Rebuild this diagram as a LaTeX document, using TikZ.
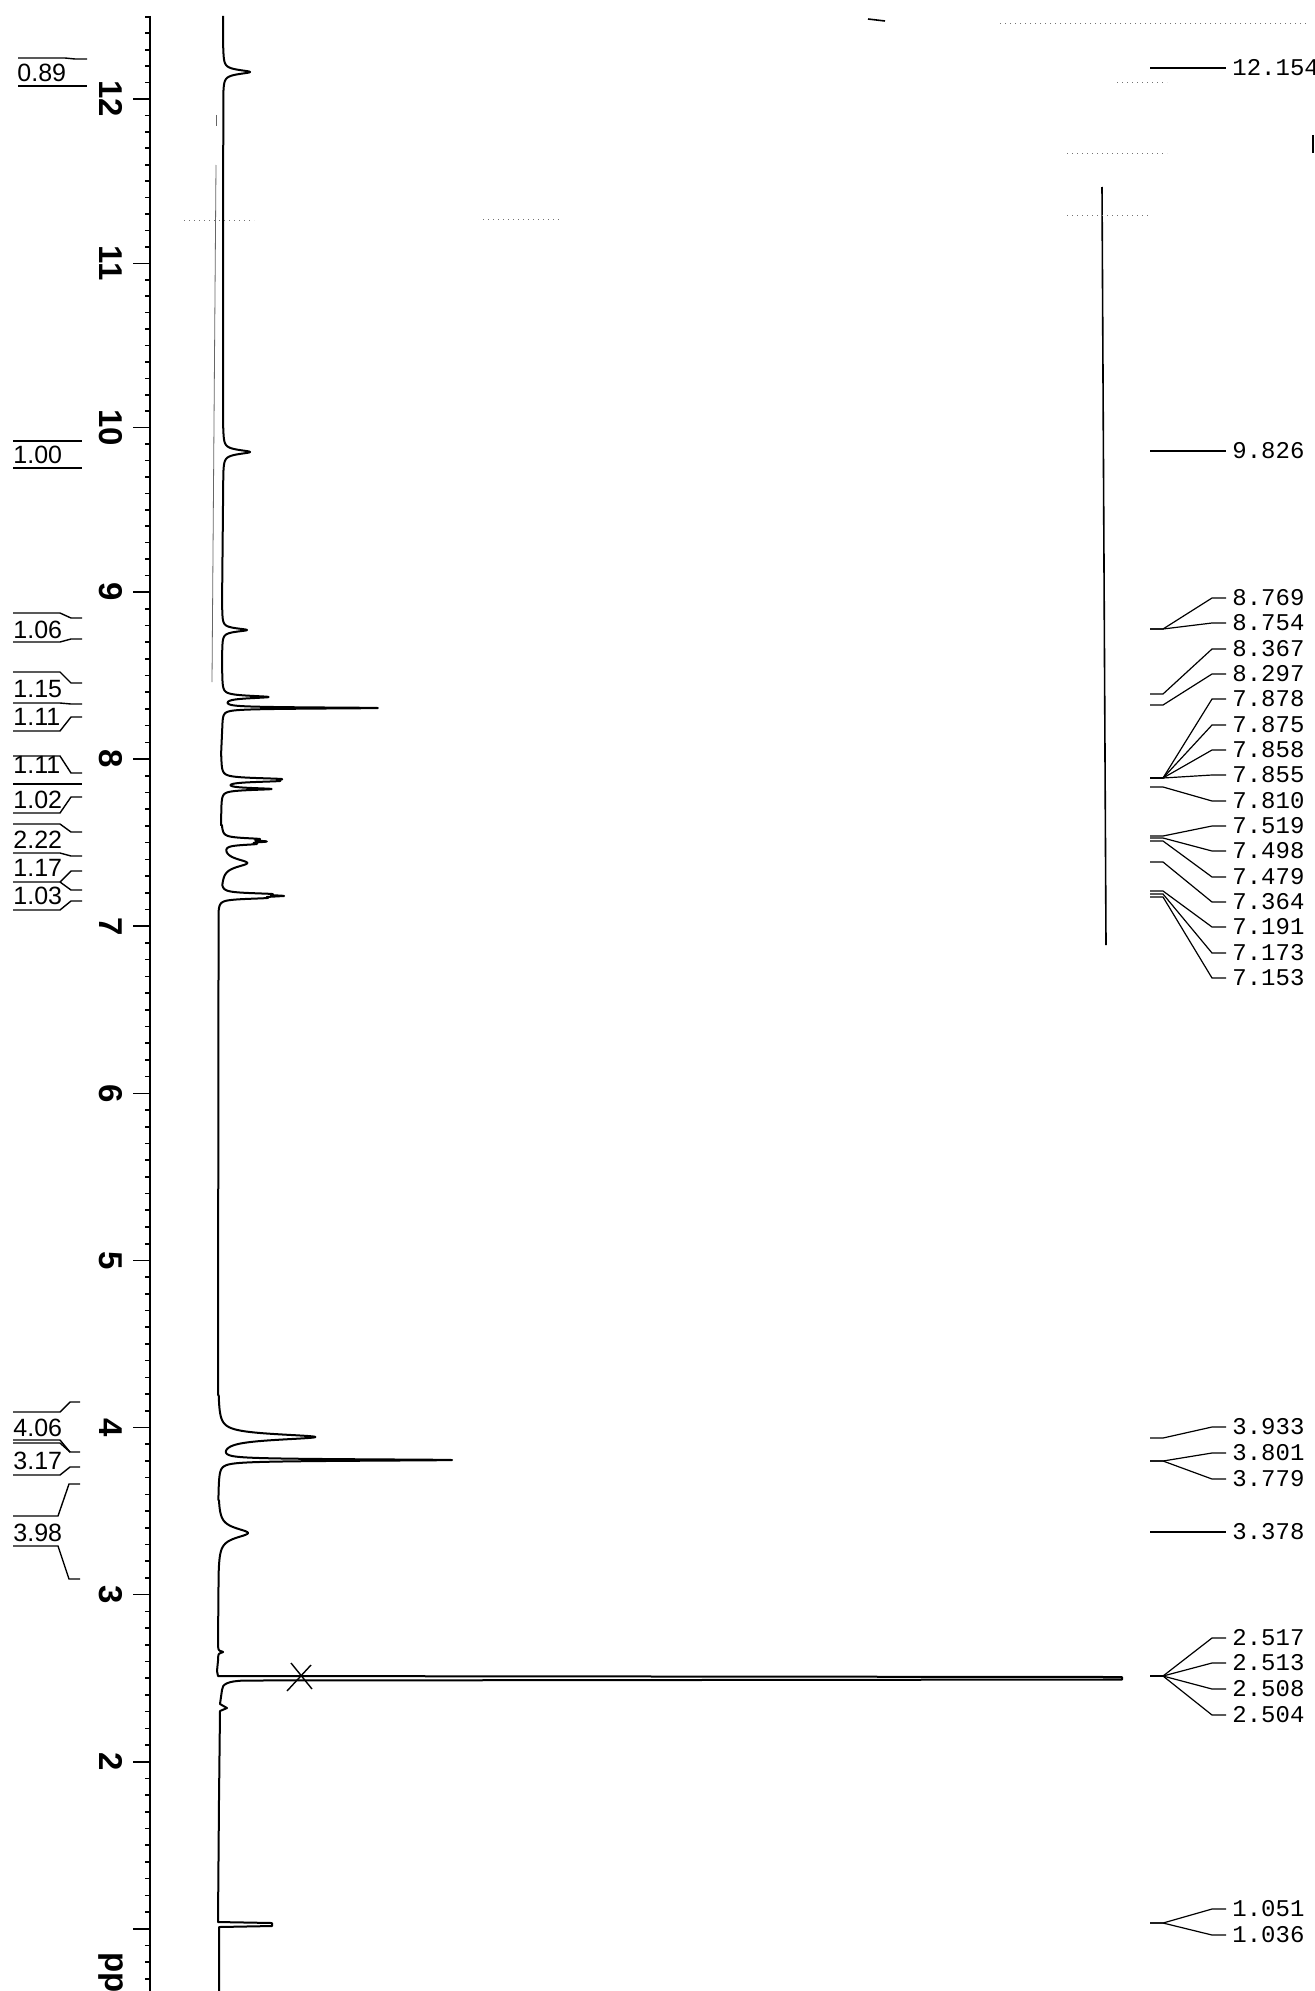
\documentclass[tikz,border=0pt]{standalone}
\usepackage{fontspec}
\setmainfont{Liberation Sans}
\newfontfamily\shiftfont{Liberation Mono}
\tikzset{
  trace/.style={line width=1pt, line join=round},
  axisline/.style={line width=1.1pt},
  tickmark/.style={line width=0.8pt},
  ticklabel/.style={rotate=-90, inner sep=0pt, font=\fontsize{16.5}{17}\selectfont\bfseries},
  intline/.style={line width=0.7pt},
  intlabel/.style={anchor=west, inner sep=0pt, font=\fontsize{12.5}{13}\selectfont},
  peakline/.style={line width=0.6pt},
  peaklabel/.style={anchor=west, inner sep=3pt, font=\shiftfont\fontsize{12}{13}\selectfont},
  speck/.style={line width=0.5pt, color=black!55, dotted},
}

\begin{document}
\begin{tikzpicture}[x=0.5pt, y=-0.5pt,
    declare function={py(\d)=ifthenelse(\d<9,592+(9-\d)*167.1,99+(12-\d)*164.3);
                      lz(\x,\m,\h,\w)=\h/(1+((\x-\m)/\w)^2);}]
		%%%%% START %%%%%
		\useasboundingbox[fill=white] (0,0) rectangle (1315,1991);
		
		% ppm axis
		\draw[axisline] (150,16) -- (150,1991);
		\foreach \k in {7,...,125}
			\draw[tickmark] (145,{py(\k/10)}) -- (150,{py(\k/10)});
		\foreach \n in {1,...,12}
			\draw[tickmark] (133,{py(\n)}) -- (150,{py(\n)});
		\foreach \n in {2,...,12}
			\node[ticklabel] (tick\n) at (111,{py(\n)}) {\n};
		\node[ticklabel, anchor=west] (ppm) at (111,1952) {ppm};
		
		% spectrum
		\draw[trace] (223,16) -- (223,48)
			-- plot[variable=\t, domain=48:96, samples=193] ({223+lz(\t,72,27,2.5)}, \t)
			-- (223,428)
			-- plot[variable=\t, domain=428:476, samples=193] ({223+lz(\t,452,27,2.5)}, \t)
			-- (222,608)
			-- plot[variable=\t, domain=608:652, samples=177] ({222+lz(\t,630,25,2)}, \t)
			-- (222,670)
			-- plot[variable=\t, domain=670:726, samples=225] ({222+lz(\t,697,46,1.5)+lz(\t,708,155,0.7)}, \t)
			-- (221,756)
			-- plot[variable=\t, domain=756:808, samples=209] ({221+lz(\t,779,48,1.2)+lz(\t,781,45,1.2)+lz(\t,789,49,1.2)}, \t)
			-- (221,825)
			-- plot[variable=\t, domain=825:884, samples=237] ({221+lz(\t,839,30,1.2)+lz(\t,841.5,34,1.2)+lz(\t,844,26,1.2)+lz(\t,863,26,5)}, \t)
			-- plot[variable=\t, domain=885:912, samples=109] ({221-3*(\t>896)+lz(\t,894,38,1.1)+lz(\t,896,46,1.1)+lz(\t,898,36,1.1)}, \t)
			-- (218,1395)
			-- plot[variable=\t, domain=1395:1500, samples=421] ({218+lz(\t,1437,97,3.5)+lz(\t,1460,232,0.9)}, \t)
			-- plot[variable=\t, domain=1500:1575, samples=151] ({218+lz(\t,1533,30,6)}, \t)
			-- (218,1645)
			-- plot[variable=\t, domain=1645:1660, samples=61] ({218+lz(\t,1652,5,1)}, \t)
			-- (217,1671) -- (218,1676) -- (1122,1677) -- (1122,1679.5) -- (245,1680.5)
			.. controls (228,1681) and (222,1684) .. (222,1690)
			-- (220,1704) -- (227,1708) -- (220,1711)
			-- (219,1800) -- (218,1922) -- (272,1923) -- (272,1926) -- (219,1927) -- (219,1991);
		
		\draw[line width=0.7pt] (291,1663) -- (312,1689) (287,1691) -- (311,1665);
		\draw[line width=0.4pt, color=black!60] (216,165) -- (212,682);
		\draw[line width=0.4pt, color=black!60] (216,115) -- (216,126);
		\draw[line width=0.8pt] (1102,187) -- (1106,945);
		
		% integrals
		\draw[intline] (18,58) -- (65,58) -- (75,59) -- (87,59);
		\draw[intline] (18,86) -- (87,86);
		\node[intlabel] (int1) at (17,73) {0.89};
		
		\draw[intline] (13,441) -- (82,441);
		\draw[intline] (13,468) -- (82,468);
		\node[intlabel] (int2) at (13,455) {1.00};
		
		\draw[intline] (13,613) -- (60,613) -- (71,618) -- (82,618);
		\draw[intline] (13,642) -- (60,642) -- (71,639) -- (82,639);
		\node[intlabel] (int3) at (13,630) {1.06};
		
		\draw[intline] (13,672) -- (60,672) -- (71,683) -- (82,683);
		\draw[intline] (13,703) -- (60,703) -- (71,704) -- (82,704);
		\draw[intline] (13,731) -- (60,731) -- (71,717) -- (82,717);
		\node[intlabel] (int4) at (13,689) {1.15};
		\node[intlabel] (int5) at (13,717) {1.11};
		
		\draw[intline] (13,756) -- (60,756) -- (71,773) -- (82,773);
		\draw[intline] (13,784) -- (82,784);
		\draw[intline] (13,813) -- (60,813) -- (71,797) -- (82,797);
		\node[intlabel] (int6) at (13,765) {1.11};
		\node[intlabel] (int7) at (13,800) {1.02};
		
		\draw[intline] (13,824) -- (60,824) -- (71,832) -- (82,832);
		\draw[intline] (13,853) -- (60,853) -- (71,856) -- (82,856);
		\draw[intline] (13,882) -- (60,882) -- (71,871) -- (82,871);
		\draw[intline] (60,882) -- (71,890) -- (82,890);
		\draw[intline] (13,910) -- (60,910) -- (71,901) -- (82,901);
		\node[intlabel] (int8) at (13,840) {2.22};
		\node[intlabel] (int9) at (13,868) {1.17};
		\node[intlabel] (int10) at (13,896) {1.03};
		
		\draw[intline] (13,1412) -- (60,1412) -- (70,1402) -- (80,1402);
		\draw[intline] (13,1440) -- (60,1440) -- (70,1452) -- (80,1452);
		\draw[intline] (13,1443) -- (60,1443) -- (70,1452);
		\draw[intline] (13,1475) -- (60,1475) -- (70,1467) -- (80,1467);
		\node[intlabel] (int11) at (13,1428) {4.06};
		\node[intlabel] (int12) at (13,1461) {3.17};
		
		\draw[intline] (13,1516) -- (58,1516) -- (69,1484) -- (80,1484);
		\draw[intline] (13,1546) -- (58,1546) -- (69,1579) -- (80,1579);
		\node[intlabel] (int13) at (13,1533) {3.98};
		
		% peak list
		\foreach \lab/\yl/\ys [count=\k] in {12.154/68/68, 9.826/451/451,
				8.769/598/629, 8.754/623/629, 8.367/649/694, 8.297/674/705,
				7.878/699/778, 7.875/725/778, 7.858/750/778, 7.855/775/778,
				7.810/801/787, 7.519/826/836, 7.498/851/838, 7.479/877/841,
				7.364/902/862, 7.191/927/891, 7.173/953/894, 7.153/978/897,
				3.933/1427/1438, 3.801/1453/1461, 3.779/1479/1461, 3.378/1532/1532,
				2.517/1638/1676, 2.513/1663/1676, 2.508/1689/1676, 2.504/1715/1676,
				1.051/1909/1923, 1.036/1935/1923}
		{
			\node[peaklabel] (pl\k) at (1226,\yl) {\lab};
			\draw[peakline] (1150,\ys) -- (1163,\ys) -- (1212,\yl) -- (pl\k.west);
		}
		
		% scan dust
		\draw[speck] (184,220) -- (254,220);
		\draw[speck] (483,219) -- (559,219);
		\draw[speck] (1067,215) -- (1150,215);
		\draw[speck] (1000,24) -- (1307,24);
		\draw[speck] (1067,153) -- (1167,153);
		\draw[speck] (1117,83) -- (1167,83);
		\draw[line width=0.8pt] (868,19) -- (885,21);
		\draw[line width=1pt] (1313,135) -- (1313,153);
		
		%%%%% END %%%%%
\end{tikzpicture}
\end{document}
